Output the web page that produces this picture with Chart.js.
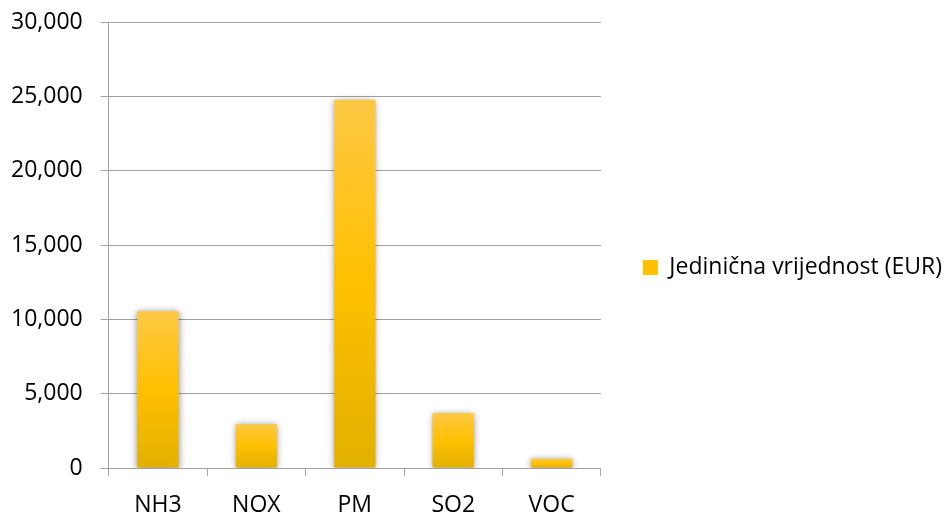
<!DOCTYPE html>
<html lang="hr">
<head>
    <meta charset="UTF-8">
    <title>Jedinična vrijednost</title>
    <script src="https://cdn.jsdelivr.net/npm/chart.js@4.4.0/dist/chart.umd.min.js"></script>
    <style>
        body { margin: 0; background: #fff; }
    </style>
</head>
<body>
    <canvas id="bar" width="947" height="514"></canvas>

<script>
    // data
    const categories = ['NH3', 'NOX', 'PM', 'SO2', 'VOC'];
    const unitValues = [10540, 2950, 24770, 3700, 620];
    const seriesLabel = 'Jedinična vrijednost (EUR)';

    const fontName = "'Open Sans', 'Liberation Sans', sans-serif";

    function barFill(ctx) {
        const chart = ctx.chart;
        if (!chart.chartArea || !chart.scales.y) return '#FFC000';
        const y = chart.scales.y;
        const top = y.getPixelForValue(ctx.raw);
        const bottom = y.getPixelForValue(0);
        const g = chart.ctx.createLinearGradient(0, top, 0, bottom);
        g.addColorStop(0, '#FFC845');
        g.addColorStop(0.5, '#FFC000');
        g.addColorStop(1, '#E2B000');
        return g;
    }

    // soft shadow around the bars
    const barShadow = {
        id: 'barShadow',
        beforeDatasetsDraw(chart) {
            const c = chart.ctx;
            c.save();
            c.shadowColor = 'rgba(0,0,0,0.45)';
            c.shadowBlur = 7;
            c.shadowOffsetX = 0;
            c.shadowOffsetY = 1;
        },
        afterDatasetsDraw(chart) {
            chart.ctx.restore();
        }
    };

    const myChart = new Chart(document.getElementById('bar').getContext('2d'), {
        type: 'bar',
        data: {
            labels: categories,
            datasets: [{
                label: seriesLabel,
                data: unitValues,
                backgroundColor: barFill,
                borderWidth: 0,
                categoryPercentage: 1,
                barPercentage: 0.42
            }]
        },
        options: {
            responsive: false,
            animation: false,
            layout: {
                padding: { left: -7, top: 0, right: -5, bottom: -21 }
            },
            plugins: {
                tooltip: { enabled: false },
                legend: {
                    position: 'right',
                    maxWidth: 400,
                    labels: {
                        color: '#000',
                        font: { family: fontName, size: 23 },
                        boxWidth: 15,
                        boxHeight: 15,
                        padding: 42,
                        generateLabels: (chart) => [{
                            text: seriesLabel,
                            fillStyle: '#FFC000',
                            strokeStyle: '#FFC000',
                            lineWidth: 0,
                            datasetIndex: 0
                        }]
                    }
                }
            },
            scales: {
                x: {
                    grid: {
                        offset: true,
                        drawOnChartArea: false,
                        color: '#A0A0A0',
                        tickLength: 8
                    },
                    border: { color: '#A0A0A0' },
                    ticks: {
                        color: '#000',
                        font: { family: fontName, size: 23, lineHeight: 1 },
                        padding: 18
                    }
                },
                y: {
                    min: 0,
                    max: 30000,
                    grid: {
                        color: '#A0A0A0',
                        tickLength: 8
                    },
                    border: { color: '#A0A0A0' },
                    ticks: {
                        stepSize: 5000,
                        color: '#000',
                        font: { family: fontName, size: 23, lineHeight: 0.35 },
                        padding: 18,
                        callback: (v) => v.toLocaleString('en-US')
                    }
                }
            }
        },
        plugins: [barShadow]
    });
</script>
</body>
</html>
